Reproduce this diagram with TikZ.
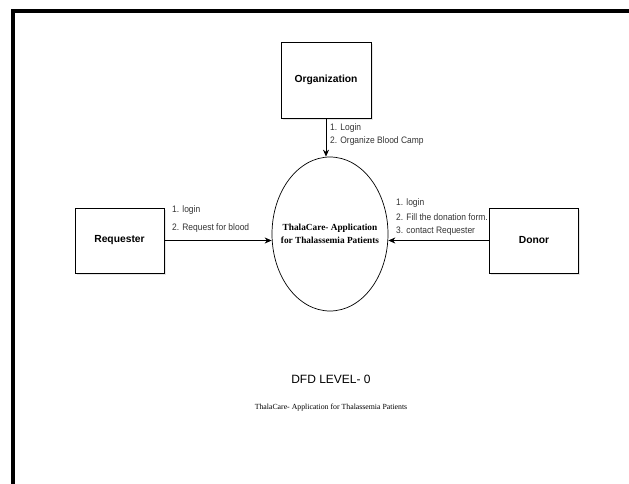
\documentclass[tikz,border=0pt]{standalone}
\usepackage{fontspec}
\setmainfont{Liberation Serif}
\newfontfamily\boxfont{Liberation Sans}
\newfontfamily\flowfont[FakeStretch=0.9]{Liberation Sans}
\usetikzlibrary{shapes.geometric,arrows.meta,shadows}
\tikzset{
  entity/.style={draw, line width=0.8pt, fill=white, minimum width=89pt, minimum height=65pt, inner sep=0pt,
    font=\boxfont\bfseries\fontsize{10.3}{12}\selectfont,
    drop shadow={shadow xshift=1.5pt, shadow yshift=-2pt, opacity=0.2}},
  process/.style={draw, ellipse, line width=0.7pt, minimum width=116pt, minimum height=154pt, inner ysep=0pt,
    inner xsep=-12pt, align=center, font=\bfseries\fontsize{9.3}{13}\selectfont},
  flow/.style={-{Stealth[length=7pt,width=6pt]}, line width=0.7pt},
  flowlabel/.style={anchor=west, inner sep=0pt, font=\flowfont\fontsize{9.4}{10}\selectfont, text=black!80}
}
\begin{document}
\begin{tikzpicture}[x=1pt,y=-1pt]
\useasboundingbox (0,0) rectangle (629,484);
%frame
\draw[line width=4pt] (13,484) -- (13,11) -- (629,11);
\node[entity, minimum width=90pt, minimum height=76pt] (org) at (326,80) {Organization};
\node[entity] (req) at (119.5,240.5) {Requester};
\node[entity] (donor) at (534,240.5) {Donor};
\node[process] (app) at (330,234) {ThalaCare- Application\\for Thalassemia Patients};
\draw[flow] (org.south) -- (org.south |- app.north);
\draw[flow] (req.east) -- (app.west |- req.east);
\draw[flow] (donor.west) -- (app.east |- donor.west);
\node[flowlabel] (org1) at (330,128) {1. Login};
\node[flowlabel] (org2) at (330,141) {2. Organize Blood Camp};
\node[flowlabel] (req1) at (172,210) {1. login};
\node[flowlabel] (req2) at (172,228) {2. Request for blood};
\node[flowlabel] (don1) at (396,203) {1. login};
\node[flowlabel] (don2) at (396,217) {2. Fill the donation form.};
\node[flowlabel] (don3) at (396,231) {3. contact Requester};
\node[font=\boxfont\fontsize{12}{14}\selectfont] (level) at (331,379) {DFD LEVEL- 0};
\node[font=\fontsize{7.8}{9}\selectfont] (title) at (331,408) {ThalaCare- Application for Thalassemia Patients};
\end{tikzpicture}
\end{document}
